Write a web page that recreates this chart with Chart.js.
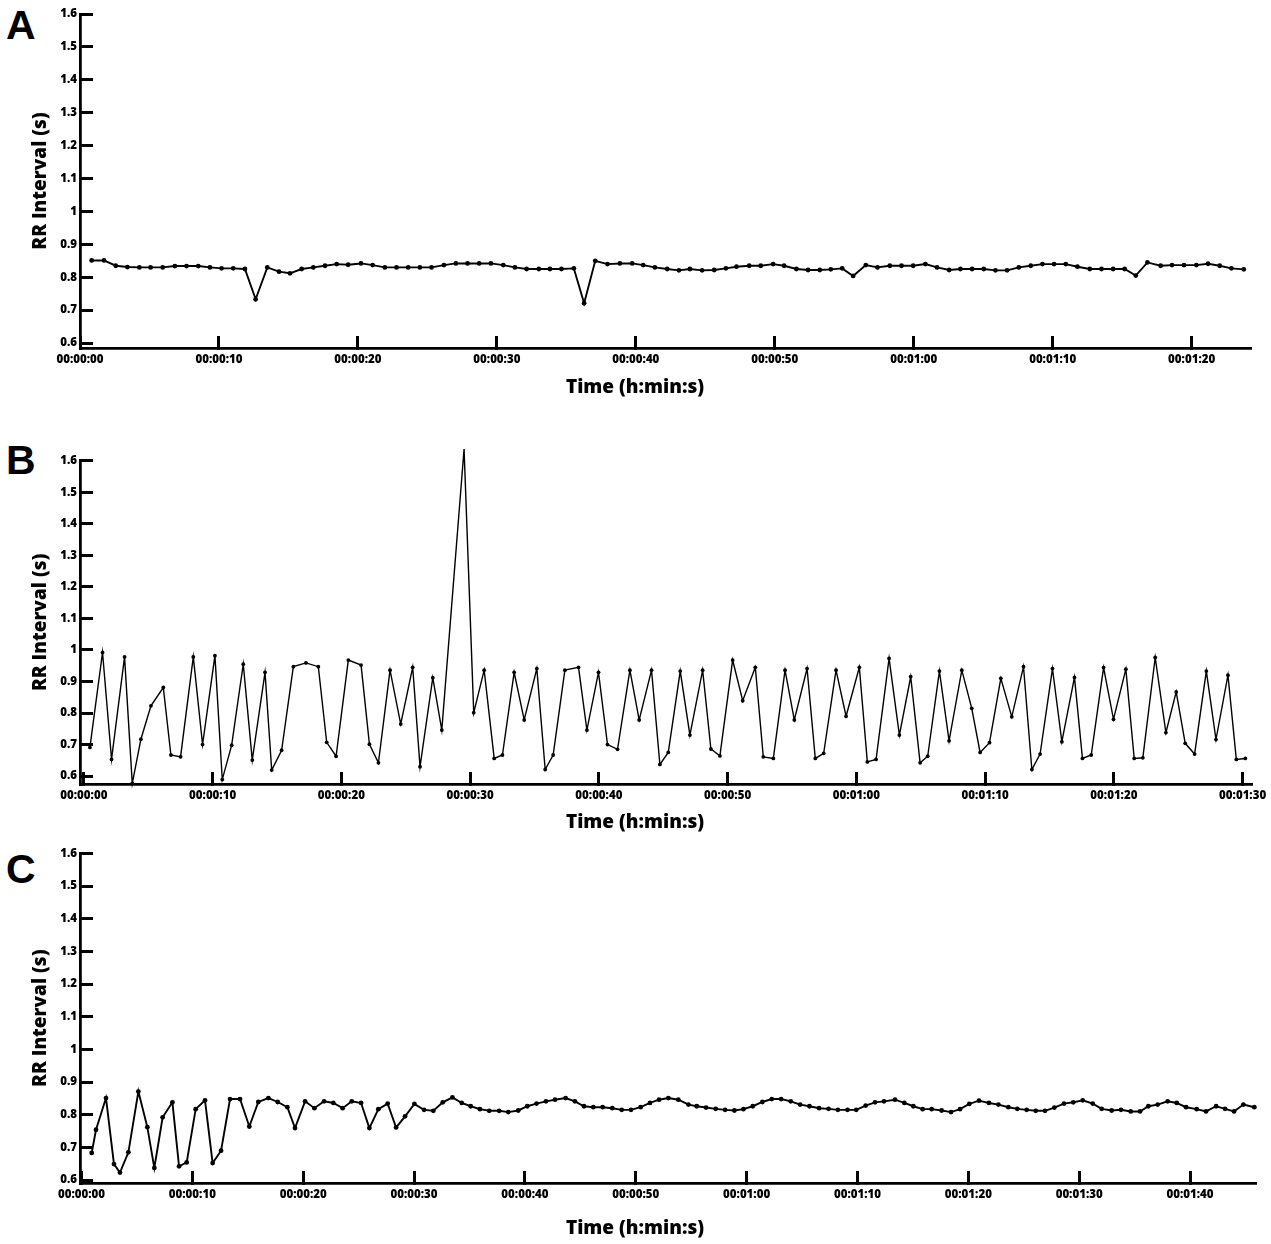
<!DOCTYPE html>
<html>
<head>
<meta charset="utf-8">
<title>RR interval tachograms</title>
<script src="https://cdn.jsdelivr.net/npm/chart.js@4.4.1/dist/chart.umd.min.js"></script>
<style>
  html, body { margin: 0; padding: 0; background: #fff; }
  #page { position: relative; width: 1271px; height: 1244px; overflow: hidden; background: #fff; }
  .panel { position: absolute; left: 0; }
  .letter { position: absolute; left: 6px; font: bold 41px "Liberation Sans", Arial, sans-serif; line-height: 40px; color: #000; }
  .xtitle { position: absolute; left: 0; width: 1270px; text-align: center; font: 800 19px "Open Sans", sans-serif; line-height: 24px; color: #000; }
</style>
</head>
<body>
<div id="page">
  <div class="letter" style="top:5px">A</div>
  <div class="panel" style="top:0px"><canvas id="chartA"></canvas></div>
  <div class="xtitle" style="top:374px">Time (h:min:s)</div>

  <div class="letter" style="top:440px">B</div>
  <div class="panel" style="top:420px"><canvas id="chartB"></canvas></div>
  <div class="xtitle" style="top:809px">Time (h:min:s)</div>

  <div class="letter" style="top:849px">C</div>
  <div class="panel" style="top:820px"><canvas id="chartC"></canvas></div>
  <div class="xtitle" style="top:1215px">Time (h:min:s)</div>
</div>
<script>
// tick values / labels shared by the three panels
const rrTicks = [0.6, 0.7, 0.8, 0.9, 1, 1.1, 1.2, 1.3, 1.4, 1.5, 1.6];
const timeTicks = [0, 10, 20, 30, 40, 50, 60, 70, 80, 90, 100];
const timeLabels = ['00:00:00', '00:00:10', '00:00:20', '00:00:30', '00:00:40', '00:00:50',
  '00:01:00', '00:01:10', '00:01:20', '00:01:30', '00:01:40'];

// Panel A: beat time (s) and RR interval (s)
const timeA = [
  0.84, 1.73, 2.57, 3.41, 4.27, 5.08, 5.95, 6.83, 7.67, 8.51,
  9.35, 10.19, 11.03, 11.87, 12.64, 13.48, 14.32, 15.11, 15.95, 16.79,
  17.63, 18.47, 19.30, 20.22, 21.06, 21.94, 22.78, 23.62, 24.46, 25.30,
  26.19, 27.05, 27.89, 28.73, 29.57, 30.46, 31.30, 32.14, 33.02, 33.82,
  34.65, 35.54, 36.28, 37.08, 37.96, 38.85, 39.74, 40.53, 41.37, 42.26,
  43.10, 43.89, 44.77, 45.64, 46.48, 47.24, 48.16, 48.99, 49.88, 50.67,
  51.56, 52.40, 53.24, 54.03, 54.85, 55.64, 56.55, 57.39, 58.28, 59.12,
  59.96, 60.84, 61.68, 62.55, 63.36, 64.20, 65.04, 65.88, 66.72, 67.56,
  68.42, 69.26, 70.10, 70.94, 71.78, 72.67, 73.51, 74.35, 75.18, 75.98,
  76.82, 77.77, 78.59, 79.45, 80.34, 81.18, 82.02, 82.86, 83.75
];
const rrA = [
  0.851, 0.851, 0.835, 0.831, 0.830, 0.830, 0.830, 0.834, 0.834, 0.834,
  0.830, 0.827, 0.827, 0.825, 0.733, 0.830, 0.817, 0.812, 0.825, 0.830,
  0.835, 0.840, 0.838, 0.842, 0.837, 0.830, 0.830, 0.830, 0.830, 0.830,
  0.837, 0.842, 0.842, 0.842, 0.842, 0.837, 0.830, 0.825, 0.825, 0.825,
  0.825, 0.827, 0.721, 0.850, 0.840, 0.842, 0.842, 0.837, 0.830, 0.825,
  0.821, 0.825, 0.821, 0.822, 0.827, 0.832, 0.835, 0.835, 0.840, 0.835,
  0.825, 0.822, 0.822, 0.824, 0.827, 0.804, 0.837, 0.830, 0.835, 0.835,
  0.835, 0.840, 0.830, 0.822, 0.825, 0.825, 0.825, 0.821, 0.821, 0.830,
  0.835, 0.840, 0.840, 0.840, 0.832, 0.825, 0.825, 0.825, 0.825, 0.805,
  0.845, 0.835, 0.837, 0.837, 0.837, 0.841, 0.835, 0.827, 0.824
];

// Panel B
const timeB = [
  0.47, 1.45, 2.15, 3.16, 3.76, 4.43, 5.21, 6.17, 6.76, 7.51,
  8.50, 9.22, 10.18, 10.75, 11.48, 12.38, 13.08, 14.07, 14.59, 15.36,
  16.27, 17.25, 18.21, 18.86, 19.59, 20.54, 21.53, 22.18, 22.88, 23.78,
  24.61, 25.54, 26.11, 27.10, 27.80, 29.53, 30.28, 31.09, 31.87, 32.51,
  33.42, 34.20, 35.18, 35.83, 36.45, 37.36, 38.42, 39.07, 39.97, 40.67,
  41.45, 42.41, 43.13, 44.09, 44.74, 45.39, 46.32, 47.07, 48.06, 48.70,
  49.40, 50.39, 51.17, 52.15, 52.77, 53.55, 54.46, 55.18, 56.17, 56.81,
  57.46, 58.42, 59.20, 60.23, 60.85, 61.53, 62.54, 63.34, 64.22, 64.95,
  65.54, 66.45, 67.20, 68.19, 68.96, 69.61, 70.34, 71.22, 72.07, 72.98,
  73.63, 74.27, 75.23, 75.96, 76.94, 77.56, 78.24, 79.20, 79.97, 80.93,
  81.58, 82.25, 83.21, 84.04, 84.84, 85.54, 86.27, 87.18, 87.93, 88.86,
  89.51, 90.21
];
const rrB = [
  0.691, 0.992, 0.653, 0.978, 0.577, 0.717, 0.823, 0.881, 0.667, 0.661,
  0.978, 0.700, 0.982, 0.589, 0.698, 0.955, 0.651, 0.929, 0.619, 0.682,
  0.947, 0.959, 0.947, 0.707, 0.663, 0.968, 0.952, 0.701, 0.642, 0.936,
  0.765, 0.945, 0.630, 0.912, 0.746, 1.637, 0.801, 0.936, 0.656, 0.667,
  0.929, 0.778, 0.941, 0.621, 0.667, 0.936, 0.945, 0.746, 0.929, 0.700,
  0.685, 0.936, 0.778, 0.936, 0.637, 0.675, 0.933, 0.730, 0.936, 0.686,
  0.664, 0.968, 0.839, 0.945, 0.661, 0.656, 0.936, 0.778, 0.941, 0.656,
  0.672, 0.936, 0.790, 0.945, 0.645, 0.653, 0.973, 0.730, 0.915, 0.642,
  0.663, 0.933, 0.712, 0.936, 0.815, 0.675, 0.706, 0.910, 0.788, 0.947,
  0.621, 0.670, 0.941, 0.709, 0.913, 0.656, 0.667, 0.944, 0.780, 0.939,
  0.656, 0.658, 0.976, 0.738, 0.867, 0.704, 0.670, 0.933, 0.716, 0.920,
  0.653, 0.656
];

// Panel C
const timeC = [
  0.92, 1.31, 2.21, 2.93, 3.47, 4.23, 5.13, 5.94, 6.57, 7.32,
  8.20, 8.80, 9.49, 10.30, 11.14, 11.83, 12.59, 13.40, 14.30, 15.14,
  15.95, 16.86, 17.70, 18.57, 19.26, 20.17, 21.01, 21.88, 22.72, 23.56,
  24.38, 25.22, 25.97, 26.78, 27.62, 28.38, 29.19, 30.03, 30.90, 31.74,
  32.59, 33.46, 34.30, 35.11, 35.94, 36.78, 37.68, 38.50, 39.40, 40.21,
  41.05, 41.90, 42.71, 43.67, 44.51, 45.33, 46.17, 47.01, 47.88, 48.73,
  49.57, 50.44, 51.28, 52.10, 52.94, 53.84, 54.75, 55.50, 56.34, 57.21,
  58.06, 58.90, 59.71, 60.55, 61.42, 62.27, 63.11, 63.98, 64.83, 65.67,
  66.54, 67.39, 68.23, 69.10, 69.89, 70.74, 71.58, 72.39, 73.38, 74.23,
  75.04, 75.88, 76.69, 77.59, 78.44, 79.25, 80.09, 80.96, 81.86, 82.71,
  83.61, 84.42, 85.26, 86.08, 86.92, 87.76, 88.63, 89.47, 90.32, 91.22,
  92.03, 92.93, 93.77, 94.65, 95.49, 96.24, 97.08, 97.98, 98.80, 99.64,
  100.60, 101.44, 102.35, 103.16, 103.97, 104.81, 105.80
];
const rrC = [
  0.683, 0.754, 0.851, 0.649, 0.623, 0.685, 0.871, 0.762, 0.637, 0.792,
  0.838, 0.642, 0.654, 0.817, 0.844, 0.652, 0.690, 0.848, 0.848, 0.764,
  0.839, 0.851, 0.839, 0.823, 0.759, 0.841, 0.820, 0.841, 0.836, 0.820,
  0.841, 0.836, 0.759, 0.817, 0.834, 0.761, 0.795, 0.833, 0.815, 0.812,
  0.838, 0.853, 0.836, 0.826, 0.817, 0.812, 0.812, 0.808, 0.813, 0.826,
  0.834, 0.841, 0.846, 0.851, 0.841, 0.826, 0.823, 0.823, 0.820, 0.815,
  0.815, 0.823, 0.836, 0.846, 0.851, 0.846, 0.831, 0.826, 0.822, 0.818,
  0.815, 0.813, 0.817, 0.826, 0.839, 0.848, 0.848, 0.841, 0.831, 0.826,
  0.820, 0.818, 0.815, 0.815, 0.815, 0.828, 0.838, 0.841, 0.846, 0.836,
  0.826, 0.817, 0.817, 0.813, 0.808, 0.817, 0.833, 0.843, 0.836, 0.831,
  0.823, 0.818, 0.815, 0.812, 0.812, 0.822, 0.834, 0.838, 0.844, 0.834,
  0.818, 0.813, 0.815, 0.810, 0.810, 0.826, 0.831, 0.841, 0.836, 0.823,
  0.817, 0.810, 0.826, 0.818, 0.810, 0.831, 0.823
];

const FONT = 'Open Sans';
Chart.defaults.font.family = FONT;
Chart.defaults.color = '#000';

// layout of each panel (canvas height, plot insets, axis ranges)
const panels = [
  { id: 'chartA', times: timeA, rr: rrA, height: 378, padTop: 14, padRight: 21,
    xMin: 0, xMax: 84.2, yMin: 0.585, lineWidth: 1.9, pointRadius: 2.4 },
  { id: 'chartB', times: timeB, rr: rrB, height: 394, padTop: 40.7, padRight: 20,
    xMin: -0.3, xMax: 90.65, yMin: 0.575, lineWidth: 1.4, pointRadius: 1.9 },
  { id: 'chartC', times: timeC, rr: rrC, height: 393, padTop: 33.4, padRight: 16,
    xMin: -0.135, xMax: 105.86, yMin: 0.591, lineWidth: 1.9, pointRadius: 2.4 }
];

const buildChart = (p) => {
  if (p.times.length !== p.rr.length) {
    throw new Error(p.id + ': ' + p.times.length + ' times vs ' + p.rr.length + ' values');
  }
  const canvas = document.getElementById(p.id);
  canvas.width = 1271;
  canvas.height = p.height;

  const tickFont = { family: FONT, weight: '800', size: 11.5 };
  // inward tick marks: negative tick length
  const gridOpts = (len) => ({
    drawOnChartArea: false,
    tickLength: len,
    color: '#000',
    lineWidth: 3,
    tickColor: '#000',
    tickWidth: 3
  });

  return new Chart(canvas, {
    type: 'line',
    data: {
      datasets: [{
        data: p.times.map((t, i) => ({ x: t, y: p.rr[i] })),
        borderColor: '#000',
        backgroundColor: '#000',
        borderWidth: p.lineWidth,
        pointRadius: p.pointRadius,
        pointBorderWidth: 0,
        pointHoverRadius: 0,
        tension: 0,
        fill: false,
        clip: false
      }]
    },
    options: {
      responsive: false,
      animation: false,
      events: [],
      layout: { padding: { top: p.padTop, right: p.padRight, left: 0, bottom: 0 } },
      plugins: { legend: { display: false }, tooltip: { enabled: false } },
      scales: {
        x: {
          type: 'linear',
          min: p.xMin,
          max: p.xMax,
          border: { display: true, color: '#000', width: 2.8 },
          grid: gridOpts(-12),
          ticks: {
            padding: 17,
            font: tickFont,
            autoSkip: false,
            maxRotation: 0,
            callback: (v) => timeLabels[timeTicks.indexOf(v)]
          },
          afterBuildTicks: (s) => {
            s.ticks = timeTicks.filter(t => t <= p.xMax).map(v => ({ value: v }));
          },
          afterFit: (s) => {
            s.height = 30;
            s.paddingLeft = 0;
            s.paddingRight = 0;
          }
        },
        y: {
          type: 'linear',
          min: p.yMin,
          max: 1.6,
          border: { display: true, color: '#000', width: 2.8 },
          grid: gridOpts(-13),
          ticks: {
            padding: 16,
            font: tickFont,
            callback: (v) => String(v)
          },
          afterBuildTicks: (s) => {
            s.ticks = rrTicks.map(v => ({ value: v }));
          },
          title: {
            display: true,
            text: 'RR Interval (s)',
            color: '#000',
            font: { family: FONT, weight: '800', size: 19 },
            padding: { top: 29, bottom: 0 }
          },
          afterFit: (s) => {
            s.width = 80;
            s.paddingTop = 0;
            s.paddingBottom = 0;
          }
        }
      }
    }
  });
};

panels.forEach(buildChart);
</script>
</body>
</html>
